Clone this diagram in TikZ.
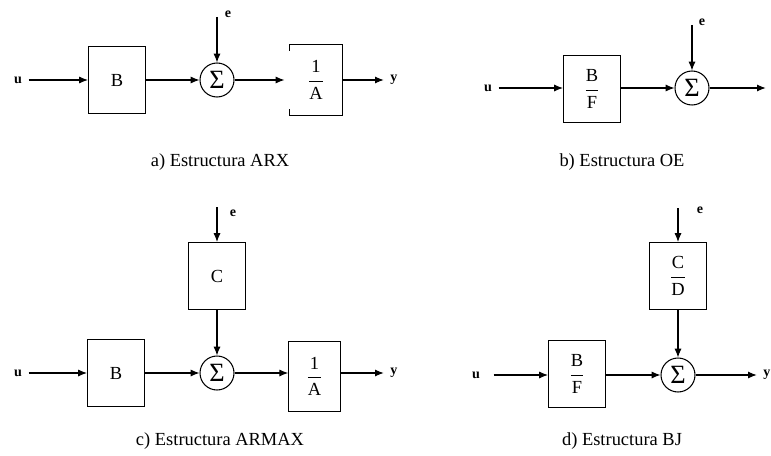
\documentclass[tikz,border=0pt]{standalone}
\usepackage{amsmath}
\usepackage{fontspec}
\setmainfont{Liberation Serif}
\usepackage{tikz}
\usetikzlibrary{arrows.meta}

\newcommand{\ratio}[2]{$\dfrac{\text{#1}}{\text{#2}}$}

\tikzset{
  blk/.style={draw, minimum width=1.14cm, minimum height=1.34cm, inner sep=0pt,
    font=\fontsize{10.5}{12}\selectfont},
  blkA/.style={blk, minimum width=1.03cm, minimum height=1.39cm},
  sumnode/.style={draw, circle, minimum size=0.68cm, inner sep=0pt,
    font=\fontsize{15}{15}\selectfont},
  sig/.style={font=\fontsize{8}{9}\selectfont\bfseries, inner ysep=1pt, inner xsep=3.5pt},
  caption/.style={font=\fontsize{10.5}{12}\selectfont},
  flow/.style={-{Latex[length=5pt,width=4pt]}},
}

\begin{document}
\begin{tikzpicture}[x=0.02cm, y=-0.02cm, line width=0.6pt]
  \useasboundingbox (0,0) rectangle (771,456);

  % a) ARX
  \node[sig] (ua) at (18,80) {u};
  \node[blk] (Ba) at (117,80) {B};
  \node[sumnode] (sa) at (217,80) {Σ};
  \node[blkA, draw=none] (Aa) at (316,80) {\ratio{1}{A}};
  \node[sig] (ya) at (394,80) {y};
  \coordinate (ea) at (217,17);
  \node[sig] (la) at (228,14) {e};
  \node[caption] (ca) at (220,162) {a) Estructura ARX};

  \draw (Aa.north west) ++(0,6) -- (Aa.north west) -- (Aa.north east)
    -- (Aa.south east) -- (Aa.south west) -- ++(0,-6);
  \draw[flow] (ua) -- (Ba);
  \draw[flow] (Ba) -- (sa);
  \draw[flow] (ea) -- (sa);
  \draw[flow] (sa) -- ([xshift=-3pt]Aa.west);
  \draw[flow] (Aa) -- (ya);

  % b) OE
  \node[sig] (ub) at (488,88) {u};
  \node[blk] (Bb) at (592,89) {\ratio{B}{F}};
  \node[sumnode] (sb) at (692,88) {Σ};
  \node[sig] (yb) at (776,88) {y};
  \coordinate (eb) at (692,25);
  \node[sig] (lb) at (702,22) {e};
  \node[caption] (cb) at (622,162) {b) Estructura OE};

  \draw[flow] (ub) -- (Bb.west |- ub);
  \draw[flow] (Bb.east |- sb) -- (sb);
  \draw[flow] (eb) -- (sb);
  \draw[flow] (sb) -- (yb);

  % c) ARMAX
  \node[sig] (uc) at (18,373) {u};
  \node[blk] (Bc) at (116,373) {B};
  \node[sumnode] (sc) at (217,373) {Σ};
  \node[blk] (Cc) at (217,276) {C};
  \node[blkA] (Ac) at (314.5,376.5) {\ratio{1}{A}};
  \node[sig] (yc) at (394,373) {y};
  \coordinate (ec) at (217,207);
  \node[sig] (lc) at (233,213) {e};
  \node[caption] (cc) at (220,441) {c) Estructura ARMAX};

  \draw[flow] (uc) -- (Bc);
  \draw[flow] (Bc) -- (sc);
  \draw[flow] (ec) -- (Cc);
  \draw[flow] (Cc) -- (sc);
  \draw[flow] (sc) -- (Ac.west |- sc);
  \draw[flow] (Ac.east |- yc) -- (yc);

  % d) BJ
  \node[sig] (ud) at (476,375) {u};
  \node[blk] (Bd) at (577,374) {\ratio{B}{F}};
  \node[sumnode] (sd) at (678,375) {Σ};
  \node[blk] (Dd) at (678,276) {\ratio{C}{D}};
  \node[sig] (yd) at (767,375) {y};
  \coordinate (ed) at (678,208);
  \node[sig] (ld) at (700,210) {e};
  \node[caption] (cd) at (622,441) {d) Estructura BJ};

  \draw[flow] ([xshift=4pt]ud.east) -- (Bd.west |- ud);
  \draw[flow] (Bd.east |- sd) -- (sd);
  \draw[flow] (ed) -- (Dd);
  \draw[flow] (Dd) -- (sd);
  \draw[flow] (sd) -- (yd);
\end{tikzpicture}
\end{document}
